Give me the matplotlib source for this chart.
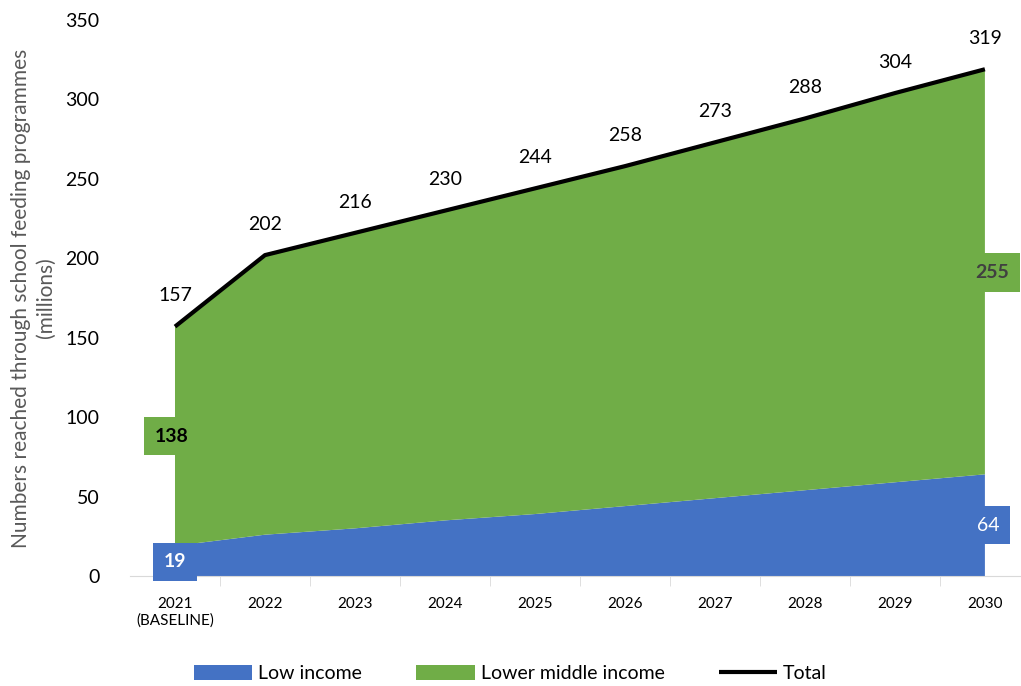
import matplotlib.pyplot as plt
import numpy as np

years = ["2021\n(BASELINE)", "2022", "2023", "2024", "2025", "2026", "2027", "2028", "2029", "2030"]
low_income = [19, 26, 30, 35, 39, 44, 49, 54, 59, 64]
lower_middle = [138, 176, 186, 195, 205, 214, 224, 234, 245, 255]
total = [157, 202, 216, 230, 244, 258, 273, 288, 304, 319]

blue = "#4472C4"
green = "#70AD47"
plt.rcParams['font.family'] = ['Lato', 'DejaVu Sans']

fig = plt.figure(figsize=(10.21, 6.86), dpi=100)
ax = fig.add_axes([130/1021, 110/686, 890/1021, 556/686])

x = np.arange(len(years))
ax.stackplot(x, low_income, lower_middle, colors=[blue, green],
             labels=["Low income", "Lower middle income"], linewidth=0)
ax.plot(x, total, color="black", linewidth=3, label="Total", solid_capstyle="butt")

# total labels above line
for xi, t in zip(x, total):
    ax.annotate(str(t), (xi, t), xytext=(0, 16), textcoords="offset points",
                ha="center", va="bottom", fontsize=14, color="black")

# boxed labels for the ends
ax.text(-0.04, 88, "138", ha="center", va="center", fontsize=14, fontweight="bold",
        color="black", bbox=dict(boxstyle="square,pad=0.55", fc=green, ec="none"))
ax.text(0.0, 9, "19", ha="center", va="center", fontsize=14, fontweight="bold",
        color="white", bbox=dict(boxstyle="square,pad=0.55", fc=blue, ec="none"))
ax.text(9.08, 191, "255", ha="center", va="center", fontsize=14, fontweight="bold",
        color="#404040", bbox=dict(boxstyle="square,pad=0.55", fc=green, ec="none"))
ax.text(9.04, 32, "64", ha="center", va="center", fontsize=14,
        color="white", bbox=dict(boxstyle="square,pad=0.55", fc=blue, ec="none"))

ax.set_xlim(-0.5, 9.39)
ax.set_ylim(0, 350)
ax.set_yticks(range(0, 351, 50))
ax.tick_params(axis="y", length=0, labelsize=14, pad=22)
ax.set_xticks(x)
ax.set_xticklabels(years, fontsize=11)
ax.set_xticks(np.arange(0.5, 9.5, 1), minor=True)
ax.tick_params(axis="x", which="major", length=0, pad=15)
ax.tick_params(axis="x", which="minor", length=7, color="#D9D9D9")

for s in ["top", "right", "left"]:
    ax.spines[s].set_visible(False)
ax.spines["bottom"].set_color("#D9D9D9")

ax.set_ylabel("Numbers reached through school feeding programmes\n(millions)",
              fontsize=15, color="#595959", labelpad=7, linespacing=1.3)

fig.legend(loc="lower center", bbox_to_anchor=(0.5, -0.02), ncol=3,
           frameon=False, fontsize=14, handlelength=3.0, handleheight=0.8,
           columnspacing=2.8, handletextpad=0.3)

fig.savefig("out.png", dpi=100)
